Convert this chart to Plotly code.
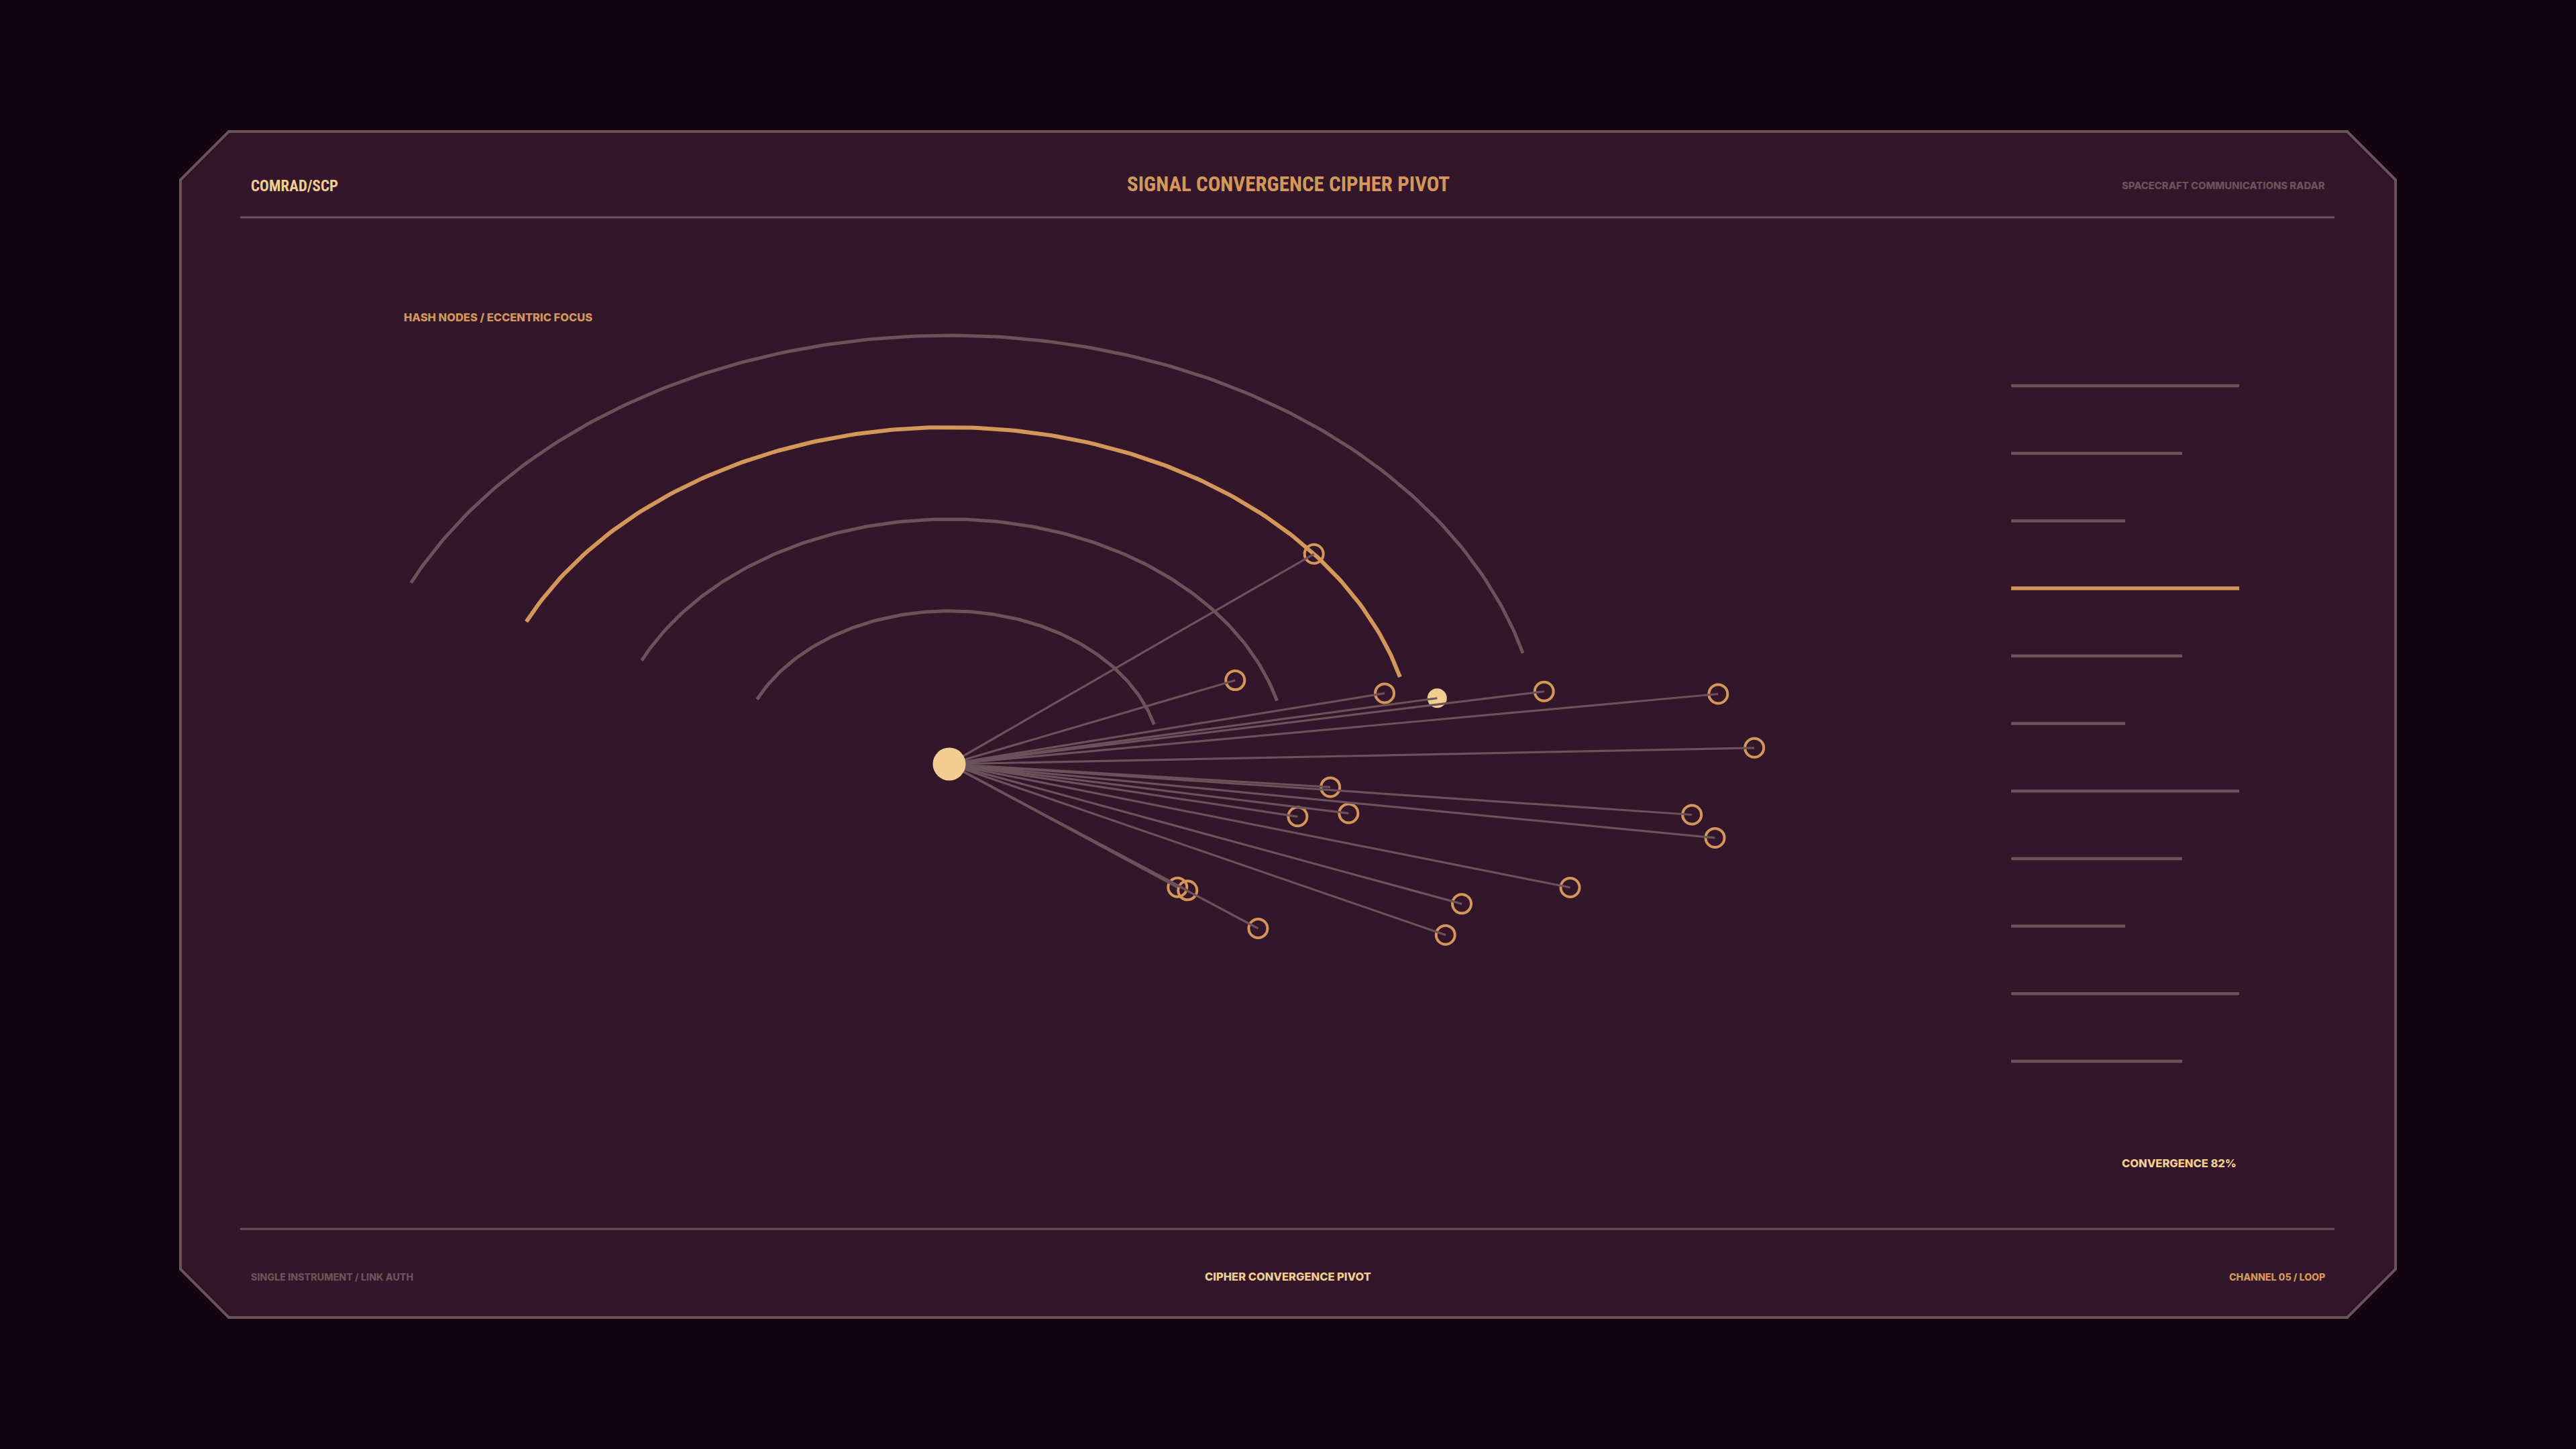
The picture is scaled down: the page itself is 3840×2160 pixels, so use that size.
import numpy as np
import plotly.graph_objects as go

W, H = 3840, 2160

# ---------------- data ----------------
arc_radius = [1.0, 1.6, 2.2, 2.8]
arc_highlight = [False, False, True, False]
arc_span_deg = [15, 155]

node_angle_deg = [38.6, 22.1, 12.7, 10.6, 9.6, 7.2, 1.6, -4.8, -9.7, -11.8,
                  -5.4, -7.6, -15.4, -20.7, -25.5, -36.8, -36.3, -36.4]
node_radius = [2.20, 1.455, 2.104, 2.34, 2.844, 3.654, 3.797, 1.803, 1.91, 1.678,
               3.517, 3.642, 3.036, 2.583, 2.592, 1.344, 1.394, 1.809]
locked_node = 3

level_values = [100, 75, 50, 100, 75, 50, 100, 75, 50, 100, 75]
active_level = 3

texts = {
    "brand": "COMRAD/SCP",
    "title": "SIGNAL CONVERGENCE CIPHER PIVOT",
    "tag": "SPACECRAFT COMMUNICATIONS RADAR",
    "panel": "HASH NODES / ECCENTRIC FOCUS",
    "foot_left": "SINGLE INSTRUMENT / LINK AUTH",
    "foot_mid": "CIPHER CONVERGENCE PIVOT",
    "foot_right": "CHANNEL 05 / LOOP",
    "metric": "CONVERGENCE 82%",
}

# ---------------- style ----------------
BG = "#110610"
PANEL = "#33162a"
GRID = "#6b525b"
TAN = "#d4975a"
PEACH = "#f2cd8f"
COND = "Liberation Sans Narrow, Roboto Condensed, DejaVu Sans Condensed, Roboto, sans-serif"
WIDE = "Inter, Roboto, sans-serif"


def px(x):
    return x / W


def py(y):
    return 1 - y / H


fig = go.Figure()

# arcs
for r, hl in zip(arc_radius, arc_highlight):
    t = np.radians(np.linspace(arc_span_deg[0], arc_span_deg[1], 200))
    fig.add_trace(go.Scatter(
        x=r * np.cos(t), y=r * np.sin(t), mode="lines",
        line=dict(color=TAN if hl else GRID, width=6 if hl else 5),
        hoverinfo="skip", showlegend=False, xaxis="x", yaxis="y"))

ang = np.radians(np.array(node_angle_deg))
rad = np.array(node_radius)
nx = rad * np.cos(ang)
ny = rad * np.sin(ang)

# nodes (under the rays)
mask = np.arange(len(nx)) != locked_node
fig.add_trace(go.Scatter(
    x=nx[mask], y=ny[mask], mode="markers",
    marker=dict(symbol="circle-open", size=28, color=TAN, line=dict(width=4, color=TAN)),
    showlegend=False))
fig.add_trace(go.Scatter(
    x=[nx[locked_node]], y=[ny[locked_node]], mode="markers",
    marker=dict(symbol="circle", size=29, color=PEACH, line=dict(width=0)),
    showlegend=False))

# rays
rx, ry = [], []
for a, b in zip(nx, ny):
    rx += [0, a, None]
    ry += [0, b, None]
fig.add_trace(go.Scatter(x=rx, y=ry, mode="lines",
                         line=dict(color=GRID, width=3.2),
                         hoverinfo="skip", showlegend=False))

# focus
fig.add_trace(go.Scatter(
    x=[0], y=[0], mode="markers",
    marker=dict(symbol="circle", size=49, color=PEACH, line=dict(width=0)),
    showlegend=False))

# level bars
for active in (False, True):
    bx, by = [], []
    for i, v in enumerate(level_values):
        if (i == active_level) == active:
            bx += [0, v, None]
            by += [i, i, None]
    fig.add_trace(go.Scatter(
        x=bx, y=by, mode="lines", xaxis="x2", yaxis="y2",
        line=dict(color=TAN if active else GRID, width=5.5 if active else 4.5),
        hoverinfo="skip", showlegend=False))

# frame
L, R, T, B = 269, 3571, 196, 1964
cx, cy = 72, 72
pts = [(L + cx, T), (R - cx, T), (R, T + cy), (R, B - cy), (R - cx, B),
       (L + cx, B), (L, B - cy), (L, T + cy)]
path = "M " + " L ".join(f"{px(a):.5f},{py(b):.5f}" for a, b in pts) + " Z"
shapes = [
    dict(type="path", path=path, xref="paper", yref="paper",
         fillcolor=PANEL, line=dict(color=GRID, width=4), layer="below"),
    dict(type="line", xref="paper", yref="paper", x0=px(358), x1=px(3480),
         y0=py(324), y1=py(324), line=dict(color=GRID, width=3), layer="below"),
    dict(type="line", xref="paper", yref="paper", x0=px(358), x1=px(3480),
         y0=py(1832), y1=py(1832), line=dict(color=GRID, width=3), layer="below"),
]


def ann(text, x, y, anchor, color, size, family, weight=800):
    return dict(text=text, x=px(x), y=py(y), xref="paper", yref="paper",
                xanchor=anchor, yanchor="middle", showarrow=False,
                font=dict(color=color, size=size, family=family, weight=weight))


annotations = [
    ann(texts["brand"], 372, 277, "left", PEACH, 23, COND, 700),
    ann(texts["title"], 1920, 274, "center", TAN, 31, COND, 700),
    ann(texts["tag"], 3468, 277, "right", GRID, 14.8, WIDE),
    ann(texts["panel"], 600, 473, "left", TAN, 16.5, WIDE),
    ann(texts["foot_left"], 372, 1903, "left", GRID, 14.3, WIDE),
    ann(texts["foot_mid"], 1920, 1903, "center", PEACH, 16.5, WIDE),
    ann(texts["foot_right"], 3468, 1903, "right", TAN, 14.2, WIDE),
    ann(texts["metric"], 3336, 1734, "right", PEACH, 16.5, WIDE),
]

ax_hidden = dict(visible=False, showgrid=False, zeroline=False, fixedrange=True)
fig.update_layout(
    width=W, height=H, margin=dict(l=0, r=0, t=0, b=0),
    paper_bgcolor=BG, plot_bgcolor="rgba(0,0,0,0)",
    xaxis=dict(ax_hidden, domain=[0, 1], range=[-4.475, 7.669]),
    yaxis=dict(ax_hidden, domain=[0, 1], range=[-4.474, 4.991]),
    xaxis2=dict(ax_hidden, domain=[2998 / W, 3338 / W], range=[0, 100], anchor="y2"),
    yaxis2=dict(ax_hidden, domain=[1 - 1632.35 / H, 1 - 524.65 / H], range=[10.5, -0.5], anchor="x2"),
    shapes=shapes, annotations=annotations, hovermode=False,
)

fig.write_html("out.html", config={"displayModeBar": False, "staticPlot": True},
               post_script="document.body.style.margin='0';document.body.style.overflow='hidden';")
